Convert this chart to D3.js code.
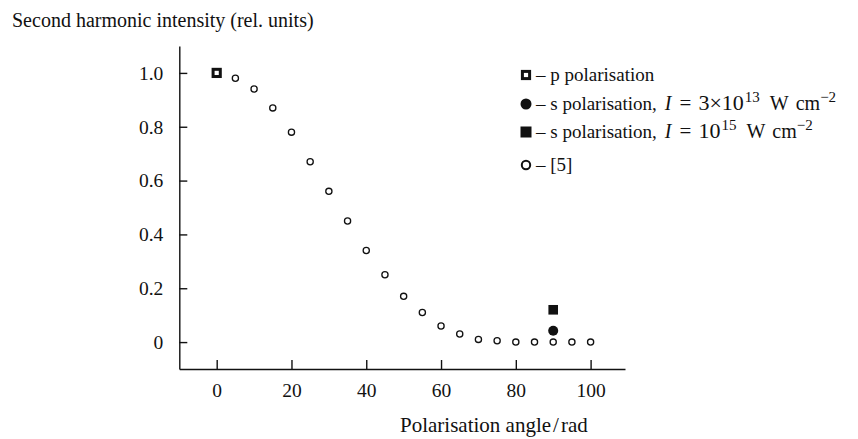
<!DOCTYPE html>
<html>
<head>
<meta charset="utf-8">
<script src="https://cdn.jsdelivr.net/npm/d3@7"></script>
<style>
  body { margin: 0; background: #fff; }
  text { font-family: "Liberation Serif", "Times New Roman", serif; fill: #111; }
</style>
</head>
<body>
<svg id="chart"></svg>
<script>
// data
const refAngles = [5, 10, 15, 20, 25, 30, 35, 40, 45, 50, 55, 60, 65, 70, 75, 80, 85, 90, 95, 100]
const refIntensity = [0.98, 0.94, 0.87, 0.78, 0.67, 0.56, 0.45, 0.34, 0.25, 0.17, 0.11, 0.06, 0.03, 0.01, 0.005, 0, 0, 0, 0, 0]
const pAngles = [0]
const pIntensity = [1.0]
const sLowAngles = [90]
const sLowIntensity = [0.042]
const sHighAngles = [90]
const sHighIntensity = [0.12]
const xTicks = [0, 20, 40, 60, 80, 100]
const yTicks = [0, 0.2, 0.4, 0.6, 0.8, 1.0]
const yTickLabels = ['0', '0.2', '0.4', '0.6', '0.8', '1.0']

const w = 858
const h = 439

const svg = d3.select('#chart').attr('width', w).attr('height', h)

const x = d3.scaleLinear().domain([-10, 109.2]).range([179.3, 625])
const y = d3.scaleLinear().domain([-0.1, 1.1]).range([369, 46])

// axes, ticks pointing inward
const xAxis = d3.axisBottom(x).tickValues(xTicks).tickSizeInner(-9).tickSizeOuter(0).tickPadding(14)
const yAxis = d3.axisLeft(y).tickValues(yTicks).tickFormat((d, i) => yTickLabels[i])
  .tickSizeInner(-8).tickSizeOuter(0).tickPadding(16)

const gx = svg.append('g').attr('transform', 'translate(0,369)').call(xAxis)
const gy = svg.append('g').attr('transform', 'translate(179.3,0)').call(yAxis)

;[gx, gy].forEach(g => {
  g.select('.domain').attr('stroke', '#111').attr('stroke-width', 1.4)
  g.selectAll('.tick line').attr('stroke', '#111').attr('stroke-width', 1.4)
  g.selectAll('.tick text').attr('font-size', 19.5).attr('font-family', '"Liberation Serif", serif').attr('fill', '#111')
})

// titles
svg.append('text').attr('x', 12).attr('y', 27).attr('font-size', 20)
  .text('Second harmonic intensity (rel. units)')
const xl = svg.append('text').attr('x', 400).attr('y', 432).attr('font-size', 21)
  .text('Polarisation angle')
xl.append('tspan').attr('dx', 2).text('/')
xl.append('tspan').attr('dx', 2).text('rad')

// reference [5]: open circles
svg.selectAll('circle.ref')
  .data(refAngles)
  .enter()
  .append('circle')
  .attr('class', 'ref')
  .attr('cx', d => x(d))
  .attr('cy', (d, i) => y(refIntensity[i]))
  .attr('r', 3.1)
  .attr('fill', '#fff')
  .attr('stroke', '#111')
  .attr('stroke-width', 1.3)

// p polarisation: open square
svg.selectAll('rect.p')
  .data(pAngles)
  .enter()
  .append('rect')
  .attr('class', 'p')
  .attr('x', d => x(d) - 3.6)
  .attr('y', (d, i) => y(pIntensity[i]) - 3.6)
  .attr('width', 7.2)
  .attr('height', 7.2)
  .attr('fill', '#fff')
  .attr('stroke', '#111')
  .attr('stroke-width', 3)

// s polarisation, 3e13: filled circle
svg.selectAll('circle.slow')
  .data(sLowAngles)
  .enter()
  .append('circle')
  .attr('class', 'slow')
  .attr('cx', d => x(d))
  .attr('cy', (d, i) => y(sLowIntensity[i]))
  .attr('r', 5)
  .attr('fill', '#111')

// s polarisation, 1e15: filled square
svg.selectAll('rect.shigh')
  .data(sHighAngles)
  .enter()
  .append('rect')
  .attr('class', 'shigh')
  .attr('x', d => x(d) - 4.8)
  .attr('y', (d, i) => y(sHighIntensity[i]) - 4.8)
  .attr('width', 9.6)
  .attr('height', 9.6)
  .attr('fill', '#111')

// legend text pieces (math part is set a bit larger, like the original)
const legendRows = [
  [{t: '– p polarisation'}],
  [{t: '– s polarisation,'}, {t: 'I', it: true, dx: 8, fs: 20}, {t: '=', dx: 8, fs: 21}, {t: '3×10', dx: 7, fs: 22},
   {t: '13', sup: true, dx: 1}, {t: 'W', dx: 10, fs: 20}, {t: 'cm', dx: 7, fs: 20}, {t: '−2', sup: true}],
  [{t: '– s polarisation,'}, {t: 'I', it: true, dx: 8, fs: 20}, {t: '=', dx: 8, fs: 21}, {t: '10', dx: 7, fs: 22},
   {t: '15', sup: true, dx: 1}, {t: 'W', dx: 10, fs: 20}, {t: 'cm', dx: 7, fs: 20}, {t: '−2', sup: true}],
  [{t: '– [5]'}]
]
const legendY = [75, 104, 132, 165]
const lx = 526

const leg = svg.append('g')
leg.append('rect').attr('x', lx - 3.6).attr('y', legendY[0] - 3.6).attr('width', 7.2).attr('height', 7.2)
  .attr('fill', '#fff').attr('stroke', '#111').attr('stroke-width', 3)
leg.append('circle').attr('cx', lx).attr('cy', legendY[1]).attr('r', 5.5).attr('fill', '#111')
leg.append('rect').attr('x', lx - 5.5).attr('y', legendY[2] - 5.5).attr('width', 11).attr('height', 11).attr('fill', '#111')
leg.append('circle').attr('cx', lx).attr('cy', legendY[3]).attr('r', 4.2)
  .attr('fill', '#fff').attr('stroke', '#111').attr('stroke-width', 2)

legendRows.forEach((row, i) => {
  const t = leg.append('text').attr('x', 536).attr('y', legendY[i] + 6).attr('font-size', 19)
  let raised = false
  row.forEach(seg => {
    const s = t.append('tspan').text(seg.t)
    if (seg.it) s.attr('font-style', 'italic')
    if (seg.fs) s.attr('font-size', seg.fs)
    if (seg.dx) s.attr('dx', seg.dx)
    if (seg.sup) {
      s.attr('font-size', 15)
      if (!raised) { s.attr('dy', -8); raised = true }
    } else if (raised) {
      s.attr('dy', 8); raised = false
    }
  })
})
</script>
</body>
</html>
